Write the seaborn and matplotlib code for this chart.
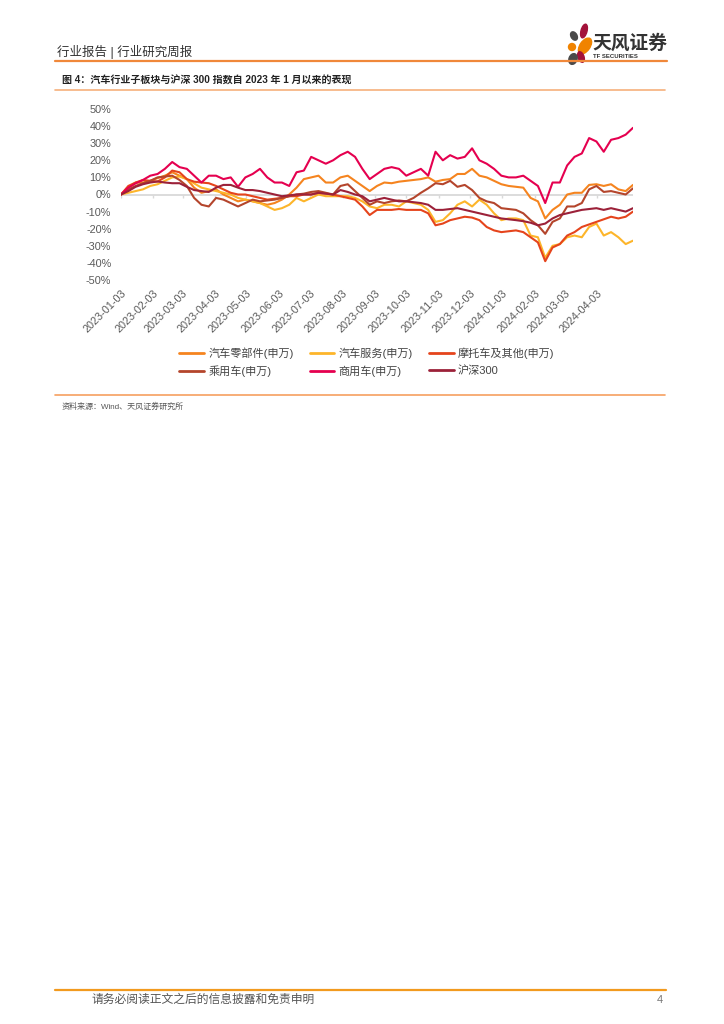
import numpy as np
import pandas as pd
import matplotlib
matplotlib.use("Agg")
import matplotlib.pyplot as plt
from matplotlib.lines import Line2D
from matplotlib.patches import Ellipse
from matplotlib.transforms import IdentityTransform
import seaborn as sns

# ---------------- data (weekly readings, % change since 2023-01-03) ----------------
dates = pd.date_range("2023-01-03", periods=71, freq="7D")

parts = [0, 4, 7, 7, 8, 9.6, 11, 13, 11, 9, 4, 1, 2, 3, 0, -2, -4, -3, -4, -5,
         -6, -5, -3, 0, 4, 9, 10, 11, 7, 7, 10, 11, 8, 5, 2, 5, 7, 6.6, 7.5, 8,
         8.5, 9, 10, 7.5, 8.5, 9, 12, 12, 15, 11, 10, 8, 6, 5, 4.5, 4, -2, -4, -14, -9,
         -6, 0, 1, 1, 5.6, 6, 5, 6, 3, 2, 5.6]
services = [0, 1, 2, 3, 5, 6, 8, 10, 10.5, 9, 6.5, 4, 3, 2, 1, 0, -2, -3, -4, -5,
            -7, -9, -8, -6, -2, -4, -2, 0, -1, -1, -1, -1, -2, -4, -7, -8, -6, -6, -7, -4,
            -5, -6, -9, -16, -15, -11, -6, -4, -7, -3, -6, -11, -15, -14, -14, -15, -24, -25, -37, -30,
            -29, -25, -24, -25, -19, -17, -24, -22, -25, -29, -27]
moto = [0, 5, 7, 8.5, 8, 7.6, 10, 14, 13, 9, 7.5, 7, 6.6, 5, 3, 1, 0, 0, -1, -2,
        -3, -2.5, -2, -1, -1, 0, 0, 1, 0.5, 0, -1, -2, -3, -7, -12, -9, -9, -9, -8.5, -9,
        -9, -9, -11, -18, -17, -15, -14, -13, -13.5, -15, -19, -21, -22, -21.5, -21, -22, -25, -28, -39, -31,
        -29, -24, -22, -19, -17.5, -16, -14.5, -13, -14, -13, -10]
passenger = [0, 3, 5, 6.6, 8, 10, 10.5, 11, 8.5, 5, -2, -6, -7, -2, -3, -5, -7, -5, -3, -4,
             -3.5, -3, -2, -1, 0, 0.5, 1.5, 2, 1, 0, 5, 6, 2, -2, -6, -4, -5, -4, -3.5, -4,
             -2, 1, 3.6, 6.6, 6, 8, 4.5, 5.6, 2.6, -2, -4, -5, -8, -8.5, -9, -11, -15, -18, -23, -16,
             -14, -7, -7, -5, 3, 5, 1.5, 2, 1, 0, 3.6]
commercial = [0, 4, 6.5, 8.5, 11, 12, 15, 19, 16, 15, 11, 7, 11, 11, 9, 10, 4.5, 10, 12, 15,
              10, 7, 7, 5, 13, 14, 22, 20, 18, 20, 23, 25, 22, 15, 9, 12, 15, 16, 15, 11,
              13, 15, 11, 25, 20, 23, 21, 22, 27, 20, 18, 15, 11, 10, 10, 11, 8, 5, -5, 7,
              7, 17, 22, 24, 33, 31, 25, 32, 33, 35, 39]
hs300 = [0, 2, 4.5, 6, 7, 7.6, 7, 6.6, 6.6, 4.5, 2.6, 2, 1.5, 4, 5.6, 5.6, 4, 2.6, 2.6, 2,
         1, 0, -1, -0.5, 0, 0, 0, 1, 0.5, 0, 2.6, 1.5, 0, -1, -4, -3, -2, -3, -4, -4,
         -4.5, -5, -6, -9, -9, -8.5, -8, -9, -10, -11, -12, -13, -14, -14.5, -15, -15.6, -16.5, -18, -17, -14,
         -12, -11, -10, -9, -8.5, -8, -9, -8, -9, -10, -8]

series_names = ["汽车零部件(申万)", "汽车服务(申万)", "摩托车及其他(申万)",
                "乘用车(申万)", "商用车(申万)", "沪深300"]
series_values = [parts, services, moto, passenger, commercial, hs300]
colors = ["#F5841F", "#FDB52A", "#E5441C", "#B4452C", "#E5004F", "#9C2139"]

y_ticks = [50, 40, 30, 20, 10, 0, -10, -20, -30, -40, -50]
x_tick_labels = ["2023-01-03", "2023-02-03", "2023-03-03", "2023-04-03", "2023-05-03",
                 "2023-06-03", "2023-07-03", "2023-08-03", "2023-09-03", "2023-10-03",
                 "2023-11-03", "2023-12-03", "2024-01-03", "2024-02-03", "2024-03-03",
                 "2024-04-03"]

header_text = "行业报告 | 行业研究周报"
caption_text = "图 4：汽车行业子板块与沪深 300 指数自 2023 年 1 月以来的表现"
source_text = "资料来源：Wind、天风证券研究所"
footer_text = "请务必阅读正文之后的信息披露和免责申明"

# ---------------- long-form table ----------------
df = pd.concat([pd.DataFrame({"date": dates, "value": vals, "series": name})
                for name, vals in zip(series_names, series_values)], ignore_index=True)
palette = dict(zip(series_names, colors))

# ---------------- style ----------------
sns.set_style("white")
plt.rcParams["font.family"] = ["Liberation Sans", "Noto Sans CJK SC", "DejaVu Sans"]
plt.rcParams["axes.unicode_minus"] = False

W, H = 724, 1024
fig = plt.figure(figsize=(W / 100, H / 100), dpi=100)

def fx(px):
    return px / W

def fy(py):
    return 1 - py / H

# axes: x from 121 to 633 px, y 50% at 109 px, -50% at 280 px
ax = fig.add_axes([fx(121), fy(280), fx(633) - fx(121), fy(109) - fy(280)])
ax.axhline(0, color="#D9D9D9", lw=1.3, zorder=1)
tick_dates = pd.to_datetime(x_tick_labels)
ax.vlines(tick_dates, -1.8, 0, color="#D9D9D9", lw=1.0, zorder=1)

sns.lineplot(data=df, x="date", y="value", hue="series", hue_order=series_names,
             palette=palette, linewidth=1.5, ax=ax, legend=False, zorder=3)

ax.set_xlim(dates[0], dates[-1])
ax.set_ylim(-50, 50)
ax.set_yticks(y_ticks)
ax.set_yticklabels([f"{v}%" for v in y_ticks])
ax.set_xticks(tick_dates)
ax.set_xticklabels(x_tick_labels, rotation=45, ha="right", rotation_mode="anchor")
ax.tick_params(axis="both", length=0, colors="#595959", labelsize=7.8)
ax.tick_params(axis="y", pad=7)
ax.tick_params(axis="x", pad=6)
ax.set_xlabel("")
ax.set_ylabel("")
for s in ax.spines.values():
    s.set_visible(False)
ax.grid(False)

# legend (column-major order so rows read as in reference)
order = [0, 3, 1, 4, 2, 5]
handles = [Line2D([0], [0], color=colors[i], lw=2) for i in order]
labels = [series_names[i] for i in order]
fig.legend(handles, labels, ncol=3, loc="center", bbox_to_anchor=(fx(367), fy(362)),
           frameon=False, fontsize=8, handlelength=2.2, handletextpad=0.4,
           columnspacing=1.45, labelspacing=0.6, labelcolor="#444444")

# ---------------- page decorations ----------------
def hline(y, x0, x1, color, lw):
    fig.add_artist(Line2D([fx(x0), fx(x1)], [fy(y), fy(y)], color=color, lw=lw,
                          transform=fig.transFigure))

fig.text(fx(57), fy(52), header_text, fontsize=9, color="#333333", va="center")
hline(61, 55, 667, "#F0883A", 1.6)
fig.text(fx(62), fy(81), caption_text, fontsize=7.2, color="#222222", va="center",
         fontweight="bold")
hline(90, 55, 665, "#F6B07C", 1.2)
hline(395, 55, 665, "#F6A060", 1.2)
fig.text(fx(62), fy(407), source_text, fontsize=5.8, color="#555555", va="center")

hline(990, 55, 666, "#F29A1E", 1.6)
fig.text(fx(92), fy(1000), footer_text, fontsize=8.5, color="#555555", va="center")
fig.text(fx(663), fy(1000), "4", fontsize=8, color="#777777", va="center", ha="right")

# logo (pixel coordinates, origin bottom-left)
petals = [((584, 31), 6, 14, -15, "#A3123A"),
          ((574, 36), 6, 9, 30, "#4A4A4A"),
          ((585, 46), 10, 18, -35, "#F08300"),
          ((572, 47), 7, 7, 0, "#F08300"),
          ((581, 57), 6, 11, 20, "#A3123A"),
          ((573, 59), 8, 11, -20, "#4A4A4A")]
for (cx, cy), w, h, ang, col in petals:
    fig.add_artist(Ellipse((cx, H - cy), w, h, angle=ang, color=col,
                           transform=IdentityTransform()))
fig.text(fx(592), fy(43), "天风证券", fontsize=13.5, color="#333333", va="center",
         fontweight="bold")
fig.text(fx(593), fy(56), "TF SECURITIES", fontsize=4.3, color="#333333", va="center",
         fontweight="bold")

fig.savefig("out.png", dpi=100)
